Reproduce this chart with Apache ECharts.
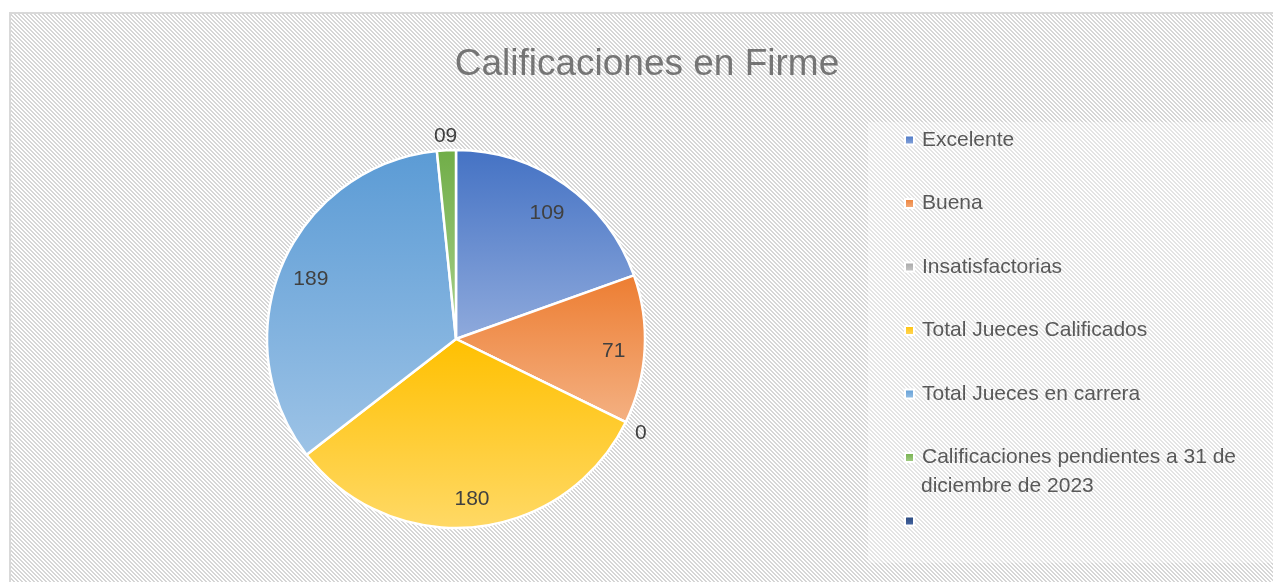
<!DOCTYPE html>
<html>
<head>
<meta charset="utf-8">
<script src="https://cdn.jsdelivr.net/npm/echarts@6/dist/echarts.min.js"></script>
<style>
  html, body { margin: 0; padding: 0; background: #fff; }
  #chart { width: 1273px; height: 582px; }
</style>
</head>
<body>
<div id="chart"></div>
<script>
    var categories = ["Excelente", "Buena", "Insatisfactorias", "Total Jueces Calificados",
        "Total Jueces en carrera", "Calificaciones pendientes a 31 de diciembre de 2023", " "];
    var values = [109, 71, 0, 180, 189, 9, null];
    var labelTexts = ["109", "71", "0", "180", "189", "09", ""];
    // top / bottom colours of each slice's gradient
    var topColors = ["#4472C4", "#ED7D31", "#A5A5A5", "#FFC000", "#5B9BD5", "#70AD47", "#264478"];
    var bottomColors = ["#8FAADC", "#F4B183", "#C9C9C9", "#FFD966", "#9DC3E6", "#A9D18E", "#4A6AA8"];

    // hatched background tile
    var tile = document.createElement("canvas");
    tile.width = 4;
    tile.height = 4;
    var tctx = tile.getContext("2d");
    tctx.fillStyle = "#ffffff";
    tctx.fillRect(0, 0, 4, 4);
    tctx.fillStyle = "#d6d6d6";
    for (var x = 0; x < 4; x++) {
        for (var y = 0; y < 4; y++) {
            if ((x - y + 8) % 4 < 2) tctx.fillRect(x, y, 1, 1);
        }
    }

    function grad(i) {
        return new echarts.graphic.LinearGradient(0, 0, 0, 1, [
            {offset: 0, color: topColors[i]},
            {offset: 1, color: bottomColors[i]}
        ]);
    }

    var mainData = [];
    var innerLabels = [];
    var outerLabels = [];
    for (var i = 0; i < categories.length; i++) {
        mainData.push({name: categories[i], value: values[i], itemStyle: {color: grad(i)}});
        var small = values[i] !== null && values[i] < 20;
        var big = values[i] !== null && values[i] >= 20;
        innerLabels.push({name: categories[i], value: values[i], label: {show: big}});
        outerLabels.push({name: categories[i], value: values[i], label: {show: small}});
    }

    var labelStyle = {
        position: "inside",
        fontFamily: "Liberation Sans",
        fontSize: 21,
        color: "#404040",
        offset: [0, 3],
        formatter: function (p) {
            return labelTexts[p.dataIndex];
        }
    };

    var chart = echarts.init(document.getElementById("chart"));
    var option = {
        backgroundColor: {image: tile, repeat: "repeat"},
        animation: false,
        title: {
            text: "Calificaciones en Firme",
            left: 642,
            top: 41,
            textAlign: "center",
            textStyle: {
                fontFamily: "Liberation Sans",
                fontSize: 37,
                fontWeight: "normal",
                color: "#757575"
            }
        },
        graphic: [
            {type: "rect", left: 0, top: 0, z: -10, silent: true,
                shape: {x: 0, y: 0, width: 1273, height: 12},
                style: {fill: "#ffffff"}},
            {type: "rect", left: 0, top: 0, z: -10, silent: true,
                shape: {x: 0, y: 0, width: 9, height: 582},
                style: {fill: "#ffffff"}},
            {type: "polyline", z: -9, silent: true,
                shape: {points: [[10, 582], [10, 13], [1273, 13]]},
                style: {stroke: "#d9d9d9", lineWidth: 2, fill: null}},
            {type: "rect", z: -9, silent: true,
                shape: {x: 868, y: 122, width: 405, height: 441},
                style: {fill: "rgba(255,255,255,0.35)"}},
            {type: "text", z: 10, silent: true,
                style: {x: 921, y: 486, text: "diciembre de 2023", verticalAlign: "middle",
                    font: "21px 'Liberation Sans'", fill: "#595959"}}
        ],
        legend: [
            {
                orient: "vertical",
                left: 904,
                top: 128,
                padding: 0,
                itemWidth: 9,
                itemHeight: 9,
                itemGap: 39.5,
                icon: "rect",
                data: categories.slice(0, 6),
                formatter: function (name) {
                    return name.replace(" diciembre de 2023", "");
                },
                textStyle: {
                    fontFamily: "Liberation Sans",
                    fontSize: 21,
                    lineHeight: 24,
                    color: "#595959",
                    padding: [0, 0, 0, 3]
                }
            },
            {
                orient: "vertical",
                left: 904,
                top: 509,
                padding: 0,
                itemWidth: 9,
                itemHeight: 9,
                icon: "rect",
                data: categories.slice(6),
                textStyle: {fontSize: 21, lineHeight: 24, color: "#595959"}
            }
        ],
        series: [
            {
                type: "pie",
                center: [456, 339],
                radius: [0, 189],
                startAngle: 90,
                clockwise: true,
                silent: true,
                itemStyle: {borderColor: "#ffffff", borderWidth: 2.5},
                label: {show: false},
                labelLine: {show: false},
                data: mainData
            },
            {
                // transparent ring that only carries the inner labels
                type: "pie",
                center: [456, 339],
                radius: [121, 189],
                startAngle: 90,
                clockwise: true,
                silent: true,
                z: 3,
                itemStyle: {color: "rgba(0,0,0,0)"},
                label: labelStyle,
                labelLine: {show: false},
                data: innerLabels
            },
            {
                // transparent ring outside the pie for the small-slice labels
                type: "pie",
                center: [456, 339],
                radius: [189, 217],
                startAngle: 90,
                clockwise: true,
                silent: true,
                z: 3,
                itemStyle: {color: "rgba(0,0,0,0)"},
                label: labelStyle,
                labelLine: {show: false},
                data: outerLabels
            }
        ]
    };
    chart.setOption(option);
</script>
</body>
</html>
